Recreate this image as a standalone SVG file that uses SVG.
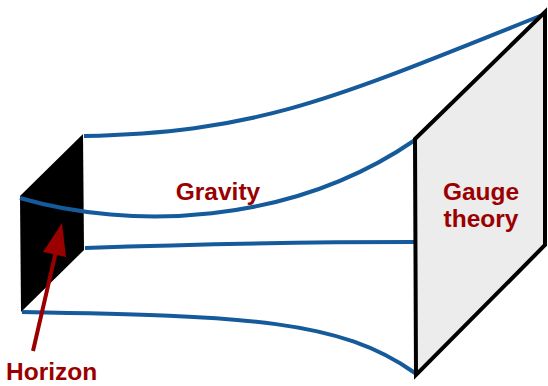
<svg xmlns="http://www.w3.org/2000/svg" width="548" height="386" viewBox="0 0 548 386">
<style>
.bl{fill:none;stroke:#155a9b;stroke-width:4;stroke-linecap:butt}
.lbl{font-family:"Liberation Sans",Arial,sans-serif;font-weight:bold;font-size:24.5px;fill:#9b0000}
</style>
<rect width="548" height="386" fill="#fff"/>
<g id="horizon">
<polygon points="20,196 83,134 84,250 21,312" fill="#000"/>
</g>
<g id="connectors">
<path class="bl" d="M84,136 C260,132 330,100 545,14"/>
<path class="bl" d="M20,198 C130,230 290,226 415,140"/>
<path class="bl" d="M85,248 C200,244 300,242 415,242"/>
<path class="bl" d="M22,312 C250,316 340,320 415,373"/>
</g>
<g id="gauge">
<polygon points="415,139 545,12 545,245 416,375" fill="#ececec" stroke="#000" stroke-width="4" stroke-linejoin="miter"/>
<text class="lbl" x="481" y="200" text-anchor="middle">Gauge</text>
<text class="lbl" x="481" y="227" text-anchor="middle">theory</text>
</g>
<g id="gravity">
<text class="lbl" x="218" y="200" text-anchor="middle">Gravity</text>
</g>
<g id="arrow">
<line x1="33" y1="351" x2="57" y2="247" stroke="#9b0000" stroke-width="4"/>
<polygon points="62,223 43,252 66,257" fill="#9b0000"/>
<text class="lbl" x="6" y="380">Horizon</text>
</g>
</svg>
